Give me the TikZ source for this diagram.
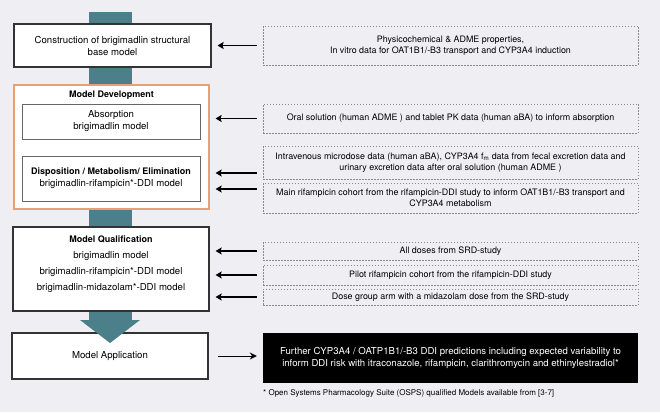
\documentclass[tikz,border=0pt]{standalone}
\usepackage{fontspec}
\setmainfont{TeX Gyre Heros}
\usetikzlibrary{arrows,arrows.meta,calc}
\definecolor{bgcol}{HTML}{EFEFF3}
\definecolor{flowcol}{HTML}{4B7F89}
\definecolor{devcol}{HTML}{E9A070}
\definecolor{boxline}{HTML}{333333}
\definecolor{innerline}{HTML}{666666}
\definecolor{dataline}{HTML}{8A8A8A}
\begin{document}
\begin{tikzpicture}[x=1pt,y=-1pt]
\tikzset{modelbox/.style={draw=boxline, line width=1.2pt, fill=white, inner sep=0pt, align=center, font=\fontsize{9.6}{12}\selectfont},
         innerbox/.style={draw=innerline, line width=0.8pt, fill=white, inner sep=0pt, align=center, font=\fontsize{9.6}{12}\selectfont},
         databox/.style={draw=dataline, line width=0.6pt, dash pattern=on 1.5pt off 1.5pt, fill=bgcol, inner sep=0pt, minimum width=375, align=center, font=\fontsize{8.9}{11}\selectfont},
         feed/.style={line width=1.8pt, shorten <=6pt, shorten >=6pt, -{Stealth[length=6pt,width=7pt,inset=1pt]}}}

\fill[bgcol] (0,0) rectangle (660,412);

\fill[flowcol] (89,12) rectangle (132,321);

\node[modelbox, minimum width=197, minimum height=43] (base) at (112.5,45.5) {Construction of brigimadlin structural\\base model};

\node[draw=devcol, line width=1.2pt, fill=white, minimum width=195, minimum height=124] (dev) at (111.5,147) {};
\node[font=\fontsize{9}{12}\selectfont\bfseries] (devtitle) at (111.5,95) {Model Development};
\node[innerbox, minimum width=178, minimum height=35] (absorp) at (111,121.5) {Absorption\\brigimadlin model};
\node[innerbox, minimum width=178, minimum height=45] (dme) at (111,178.5) {{\fontsize{9}{12}\selectfont\bfseries Disposition / Metabolism/ Elimination}\\brigimadlin-rifampicin*-DDI model};

\node[modelbox, minimum width=196, minimum height=84] (qual) at (111,269) {};
\node[font=\fontsize{9.6}{16}\selectfont, align=center] (qualtext) at (111,264) {{\fontsize{9}{16}\selectfont\bfseries Model Qualification}\\brigimadlin model\\brigimadlin-rifampicin*-DDI model\\brigimadlin-midazolam*-DDI model};

\node[modelbox, minimum width=196, minimum height=46] (appl) at (110,356) {Model Application};

\fill[flowcol] (80,320) -- (140,320) -- (110,343) -- cycle;

\node[databox, minimum height=39] (physchem) at (450.5,45.5) {Physicochemical \& ADME properties,\\In vitro data for OAT1B1/-B3 transport and CYP3A4 induction};
\node[databox, minimum height=29] (oral) at (450.5,118.5) {Oral solution (human ADME ) and tablet PK data (human aBA) to inform absorption};
\node[databox, minimum height=33] (iv) at (450.5,162.5) {Intravenous microdose data (human aBA), CYP3A4 f\textsubscript{m} data from fecal excretion data and\\urinary excretion data after oral solution (human ADME )};
\node[databox, minimum height=30] (mainrif) at (450.5,198) {Main rifampicin cohort from the rifampicin-DDI study to inform OAT1B1/-B3 transport and\\CYP3A4 metabolism};
\node[databox, minimum height=18] (alldose) at (450.5,251) {All doses from SRD-study};
\node[databox, minimum height=20] (pilot) at (450.5,275) {Pilot rifampicin cohort from the rifampicin-DDI study};
\node[databox, minimum height=16] (dosegrp) at (450.5,297) {Dose group arm with a midazolam dose from the SRD-study};
\node[fill=black, text=white, minimum width=375, minimum height=50, inner sep=0pt, align=center, font=\fontsize{9.6}{12}\selectfont] (predict) at (450.5,358) {Further CYP3A4 / OATP1B1/-B3 DDI predictions including expected variability to\\inform DDI risk with itraconazole, rifampicin, clarithromycin and ethinylestradiol*};
\node[anchor=west, inner sep=0pt, font=\fontsize{8}{9}\selectfont] (foot) at (263,393) {* Open Systems Pharmacology Suite (OSPS) qualified Models available from [3-7]};

\draw[feed] (physchem.west) -- (physchem.west -| base.east);
\draw[feed] (oral.west) -- (oral.west -| dev.east);
\draw[feed] ([yshift=-10.5pt]iv.west) -- ([yshift=-10.5pt]iv.west -| dev.east);
\draw[feed] ([yshift=9pt]mainrif.west) -- ([yshift=9pt]mainrif.west -| dev.east);
\draw[feed] (alldose.west) -- (alldose.west -| qual.east);
\draw[feed] (pilot.west) -- (pilot.west -| qual.east);
\draw[feed] (dosegrp.west) -- (dosegrp.west -| qual.east);
\draw[feed, line width=1pt, shorten <=9pt, -{Stealth[length=7pt,width=7pt]}] (appl.east) -- (appl.east -| predict.west);

\end{tikzpicture}
\end{document}
